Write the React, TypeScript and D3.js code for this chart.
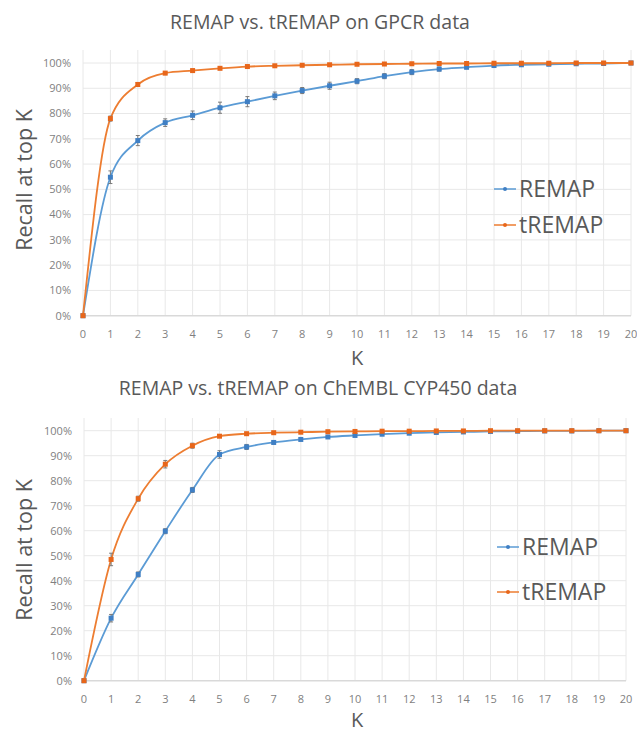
import { useEffect, useRef } from "react";
import * as d3 from "d3";

// K positions and axis ticks
const kValues = [0, 1, 2, 3, 4, 5, 6, 7, 8, 9, 10, 11, 12, 13, 14, 15, 16, 17, 18, 19, 20];
const yTicks = [0, 10, 20, 30, 40, 50, 60, 70, 80, 90, 100];
const seriesNames = ["REMAP", "tREMAP"];

// GPCR data (recall %, error bar half-widths)
const gpcrRemap = [0, 54.8, 69.3, 76.4, 79.3, 82.3, 84.7, 87, 89.1, 91, 92.8, 94.8, 96.4, 97.6, 98.3, 99, 99.3, 99.5, 99.7, 99.8, 100];
const gpcrRemapErr = [0, 2.5, 2, 1.5, 1.7, 2.2, 2, 1.5, 1.2, 1.4, 1, 1, 1, 0.8, 0.5, 0.4, 0.3, 0.3, 0.2, 0.2, 0.1];
const gpcrTremap = [0, 78, 91.5, 96, 97, 97.9, 98.6, 98.9, 99.1, 99.3, 99.5, 99.6, 99.7, 99.8, 99.8, 99.9, 99.9, 99.9, 100, 100, 100];
const gpcrTremapErr = [0, 1, 0.8, 0.6, 0.5, 0.4, 0.4, 0.3, 0.3, 0.3, 0.2, 0.2, 0.2, 0.2, 0.1, 0.1, 0.1, 0.1, 0.1, 0.1, 0.1];

// ChEMBL CYP450 data
const cypRemap = [0, 25, 42.5, 59.8, 76.3, 90.5, 93.5, 95.3, 96.5, 97.5, 98.1, 98.6, 99, 99.3, 99.5, 99.7, 99.8, 99.9, 99.9, 100, 100];
const cypRemapErr = [0, 1.5, 1, 1, 1, 1.5, 1, 0.6, 0.5, 0.4, 0.3, 0.3, 0.2, 0.2, 0.2, 0.1, 0.1, 0.1, 0.1, 0.1, 0.1];
const cypTremap = [0, 48.5, 72.8, 86.6, 94, 97.8, 98.8, 99.2, 99.4, 99.6, 99.7, 99.8, 99.8, 99.9, 99.9, 100, 100, 100, 100, 100, 100];
const cypTremapErr = [0, 2.5, 1, 1.5, 1, 0.5, 0.3, 0.3, 0.2, 0.2, 0.2, 0.1, 0.1, 0.1, 0.1, 0.1, 0.1, 0.1, 0.1, 0.1, 0.1];

const blue = "#5B9BD5";
const blueMark = "#3F7FC4";
const orange = "#ED7D31";
const orangeMark = "#E8661A";
const textColor = "#595959";
const font = "'Open Sans', sans-serif";

const App = () => {
  const container = useRef<SVGSVGElement>(null);

  useEffect(() => {
    const svg = d3.select(container.current);
    svg.selectAll("*").remove();

    const charts = [
      {
        title: "REMAP vs. tREMAP on GPCR data", titleX: 320, titleY: 29,
        x0: 83, x1: 631, y0: 315.7, y1: 63, top: 50,
        kY: 365, yLabelY: 180,
        legendX: 494, legendY: [189, 225],
        series: [[gpcrRemap, gpcrRemapErr], [gpcrTremap, gpcrTremapErr]],
      },
      {
        title: "REMAP vs. tREMAP on ChEMBL CYP450 data", titleX: 318, titleY: 395,
        x0: 84, x1: 626, y0: 680.7, y1: 430.7, top: 418,
        kY: 727, yLabelY: 550,
        legendX: 497, legendY: [547, 592],
        series: [[cypRemap, cypRemapErr], [cypTremap, cypTremapErr]],
      },
    ];

    charts.forEach((c) => {
      const g = svg.append("g");
      const x = d3.scaleLinear().domain([0, 20]).range([c.x0, c.x1]);
      const y = d3.scaleLinear().domain([0, 100]).range([c.y0, c.y1]);

      // grid
      g.selectAll(".vgrid").data(kValues).join("line")
        .attr("x1", (d) => x(d)).attr("x2", (d) => x(d))
        .attr("y1", c.top).attr("y2", c.y0)
        .attr("stroke", "#e8e8e8").attr("stroke-width", 1);
      g.selectAll(".hgrid").data(yTicks).join("line")
        .attr("x1", c.x0).attr("x2", c.x1)
        .attr("y1", (d) => y(d)).attr("y2", (d) => y(d))
        .attr("stroke", (d) => d === 0 ? "#d9d9d9" : "#e8e8e8")
        .attr("stroke-width", (d) => d === 0 ? 1.5 : 1);

      // tick labels
      g.selectAll(".ylab").data(yTicks).join("text")
        .attr("x", c.x0 - 12).attr("y", (d) => y(d)).attr("dy", "0.35em")
        .attr("text-anchor", "end").attr("font-family", font).attr("font-size", 11)
        .attr("fill", "#7f7f7f").text((d) => `${d}%`);
      g.selectAll(".xlab").data(kValues).join("text")
        .attr("x", (d) => x(d)).attr("y", c.y0 + 18).attr("dy", "0.35em")
        .attr("text-anchor", "middle").attr("font-family", font).attr("font-size", 11)
        .attr("fill", "#7f7f7f").text((d) => d);

      // titles
      g.append("text").attr("x", c.titleX).attr("y", c.titleY)
        .attr("text-anchor", "middle").attr("font-family", font).attr("font-size", 19.5)
        .attr("fill", textColor).text(c.title);
      g.append("text").attr("x", 357).attr("y", c.kY)
        .attr("text-anchor", "middle").attr("font-family", font).attr("font-size", 20)
        .attr("fill", textColor).text("K");
      g.append("text")
        .attr("transform", `translate(32,${c.yLabelY}) rotate(-90)`)
        .attr("text-anchor", "middle").attr("font-family", font).attr("font-size", 21.5)
        .attr("fill", textColor).text("Recall at top K");

      c.series.forEach(([vals, errs], si) => {
        const col = si === 0 ? blue : orange;
        const mark = si === 0 ? blueMark : orangeMark;
        const line = d3.line<number>()
          .x((_, i) => x(kValues[i])).y((d) => y(d))
          .curve(d3.curveMonotoneX);
        g.append("path").datum(vals).attr("d", line)
          .attr("fill", "none").attr("stroke", col).attr("stroke-width", 1.8);

        // error bars
        const eg = g.append("g").attr("stroke", "#7a7a7a").attr("stroke-width", 1);
        vals.forEach((v, i) => {
          const e = errs[i];
          if (e <= 0) return;
          const cx = x(kValues[i]);
          eg.append("line").attr("x1", cx).attr("x2", cx).attr("y1", y(v - e)).attr("y2", y(v + e));
          eg.append("line").attr("x1", cx - 2).attr("x2", cx + 2).attr("y1", y(v - e)).attr("y2", y(v - e));
          eg.append("line").attr("x1", cx - 2).attr("x2", cx + 2).attr("y1", y(v + e)).attr("y2", y(v + e));
        });

        g.selectAll(null).data(vals).join("rect")
          .attr("x", (_, i) => x(kValues[i]) - 2.5).attr("y", (d) => y(d) - 2.5)
          .attr("width", 5).attr("height", 5).attr("fill", mark);

        // legend
        const ly = c.legendY[si];
        g.append("line").attr("x1", c.legendX).attr("x2", c.legendX + 22)
          .attr("y1", ly).attr("y2", ly).attr("stroke", col).attr("stroke-width", 1.5);
        g.append("circle").attr("cx", c.legendX + 11).attr("cy", ly).attr("r", 2).attr("fill", mark);
        g.append("text").attr("x", c.legendX + 25).attr("y", ly).attr("dy", "0.36em")
          .attr("font-family", font).attr("font-size", 23).attr("fill", textColor)
          .text(seriesNames[si]);
      });
    });
  }, []);

  return (
    <div style={{ position: "absolute", left: 0, top: 0 }}>
      <svg ref={container} width={637} height={733} style={{ display: "block", background: "#fff" }} />
    </div>
  );
};

export default App;
